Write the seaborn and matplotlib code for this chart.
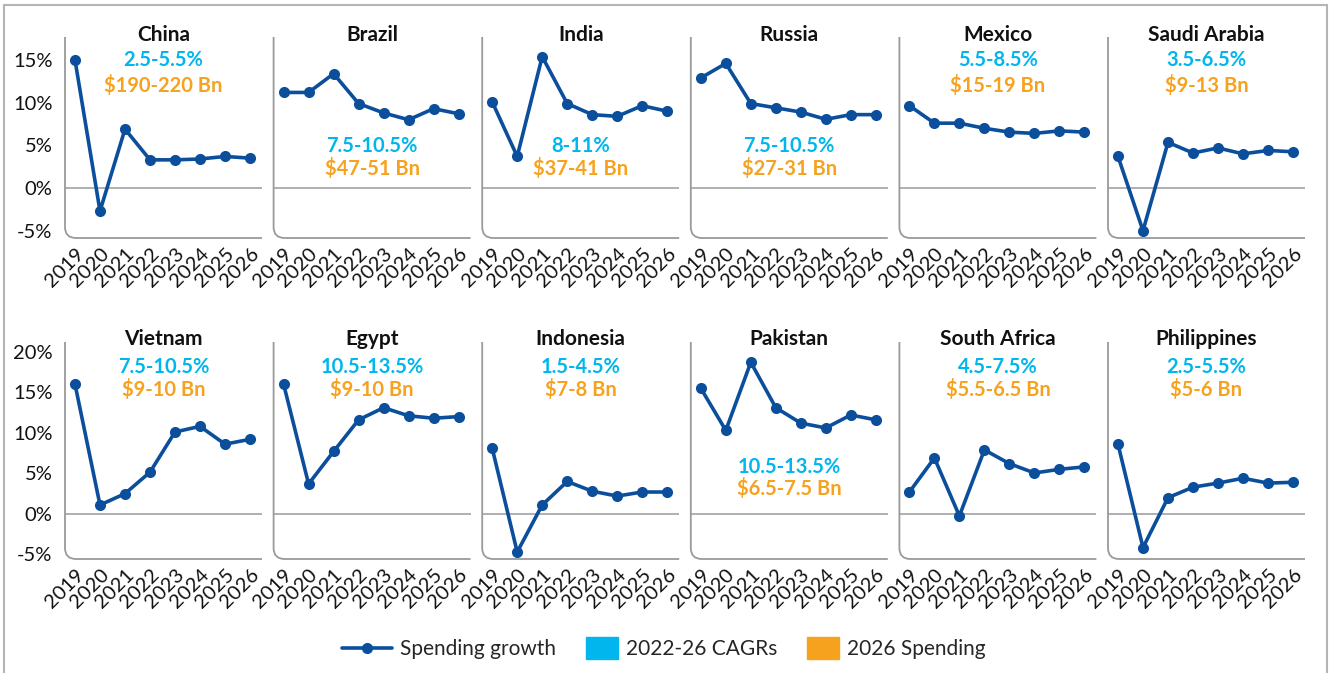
import numpy as np
import pandas as pd
import matplotlib
matplotlib.use("Agg")
import matplotlib.pyplot as plt
import matplotlib.patches as mpatches
import matplotlib.transforms as mtransforms
from matplotlib.path import Path
from matplotlib.lines import Line2D
from matplotlib.legend_handler import HandlerPatch
import seaborn as sns

# ---- data ----
years = ['2019', '2020', '2021', '2022', '2023', '2024', '2025', '2026']

countries_top = ['China', 'Brazil', 'India', 'Russia', 'Mexico', 'Saudi Arabia']
countries_bottom = ['Vietnam', 'Egypt', 'Indonesia', 'Pakistan', 'South Africa', 'Philippines']

china = [15.0, -2.7, 6.9, 3.3, 3.3, 3.4, 3.7, 3.5]
brazil = [11.2, 11.2, 13.4, 9.9, 8.8, 8.0, 9.3, 8.7]
india = [10.1, 3.7, 15.4, 9.9, 8.6, 8.4, 9.65, 9.0]
russia = [12.9, 14.6, 9.9, 9.4, 8.9, 8.05, 8.6, 8.6]
mexico = [9.65, 7.6, 7.6, 7.0, 6.55, 6.4, 6.7, 6.55]
saudi = [3.7, -5.0, 5.35, 4.1, 4.7, 4.0, 4.4, 4.25]
vietnam = [16.0, 1.1, 2.5, 5.15, 10.1, 10.8, 8.6, 9.2]
egypt = [16.0, 3.7, 7.7, 11.6, 13.1, 12.1, 11.8, 12.0]
indonesia = [8.1, -4.7, 1.1, 4.0, 2.8, 2.2, 2.7, 2.7]
pakistan = [15.5, 10.3, 18.7, 13.1, 11.2, 10.6, 12.2, 11.6]
south_africa = [2.7, 6.9, -0.25, 7.9, 6.2, 5.05, 5.5, 5.8]
philippines = [8.6, -4.15, 2.0, 3.3, 3.8, 4.4, 3.8, 3.9]

growth_top = [china, brazil, india, russia, mexico, saudi]
growth_bottom = [vietnam, egypt, indonesia, pakistan, south_africa, philippines]

cagr_top = ['2.5-5.5%', '7.5-10.5%', '8-11%', '7.5-10.5%', '5.5-8.5%', '3.5-6.5%']
spend_top = ['$190-220 Bn', '$47-51 Bn', '$37-41 Bn', '$27-31 Bn', '$15-19 Bn', '$9-13 Bn']
cagr_bottom = ['7.5-10.5%', '10.5-13.5%', '1.5-4.5%', '10.5-13.5%', '4.5-7.5%', '2.5-5.5%']
spend_bottom = ['$9-10 Bn', '$9-10 Bn', '$7-8 Bn', '$6.5-7.5 Bn', '$5.5-6.5 Bn', '$5-6 Bn']

yticks_top = [-5, 0, 5, 10, 15]
yticks_bottom = [-5, 0, 5, 10, 15, 20]

legend_labels = ['Spending growth', '2022-26 CAGRs', '2026 Spending']

# ---- style ----
LINE = '#0B4F9C'
CYAN = '#00B6EC'
ORANGE = '#F7A21E'
GRAY = '#9A9A9A'
low_labels = ['Brazil', 'India', 'Russia', 'Pakistan']

sns.set_style('white')
plt.rcParams['font.family'] = ['Lato', 'DejaVu Sans']

W, H = 1333, 673
fig = plt.figure(figsize=(W / 100, H / 100), dpi=100)

# outer frame
fig.add_artist(mpatches.Rectangle((4 / W, -0.05), 1323 / W, 1.05 - 5 / H,
                                  transform=fig.transFigure, fill=False,
                                  edgecolor='#B5B5B5', lw=1.5))


def corner_frame(ax, r=11):
    # left + bottom spine joined by a rounded corner
    bb = ax.get_position()
    rx, ry = r / W, r / H
    verts = [(bb.x0, bb.y1), (bb.x0, bb.y0 + ry), (bb.x0, bb.y0),
             (bb.x0 + rx, bb.y0), (bb.x1, bb.y0)]
    codes = [Path.MOVETO, Path.LINETO, Path.CURVE3, Path.CURVE3, Path.LINETO]
    fig.add_artist(mpatches.PathPatch(Path(verts, codes), transform=fig.transFigure,
                                      fill=False, edgecolor=GRAY, lw=1.3))


rows = [
    dict(names=countries_top, vals=growth_top, cagr=cagr_top, spend=spend_top,
         yticks=yticks_top, top=37, bottom=238, ylim=(-5.86, 17.7),
         title_y=1.012, hi=(0.886, 0.761), lo=(0.458, 0.348)),
    dict(names=countries_bottom, vals=growth_bottom, cagr=cagr_bottom, spend=spend_bottom,
         yticks=yticks_bottom, top=342, bottom=559, ylim=(-5.56, 21.2),
         title_y=1.012, hi=(0.885, 0.779), lo=(0.424, 0.323)),
]

shift = mtransforms.ScaledTranslation(0.08, -0.04, fig.dpi_scale_trans)

for row in rows:
    for i, name in enumerate(row['names']):
        left = 65 + i * 208.6
        ax = fig.add_axes([left / W, 1 - row['bottom'] / H, 197 / W,
                           (row['bottom'] - row['top']) / H])
        df = pd.DataFrame({'year': np.arange(len(years)), 'growth': row['vals'][i]})
        ax.axhline(0, color=GRAY, lw=1.1, zorder=1)
        sns.lineplot(data=df, x='year', y='growth', ax=ax, color=LINE, lw=2.6,
                     marker='o', markersize=8, markeredgewidth=0, zorder=3)
        ax.set_xlim(-0.4, 7.48)
        ax.set_ylim(*row['ylim'])
        ax.set_xlabel('')
        ax.set_ylabel('')
        for s in ax.spines.values():
            s.set_visible(False)
        corner_frame(ax)
        ax.set_xticks(np.arange(len(years)))
        ax.set_xticklabels(years, rotation=45, ha='right', va='top',
                           rotation_mode='anchor', fontsize=14.5, color='#111111')
        for lab in ax.get_xticklabels():
            lab.set_transform(lab.get_transform() + shift)
        ax.tick_params(axis='x', length=0, pad=5)
        ax.tick_params(axis='y', length=0)
        ax.set_yticks(row['yticks'])
        if i == 0:
            ax.set_yticklabels([f'{v}%' for v in row['yticks']], fontsize=14.5,
                               color='#111111')
            ax.tick_params(axis='y', pad=9)
        else:
            ax.set_yticklabels([])
        ax.text(0.5, row['title_y'], name, transform=ax.transAxes, ha='center',
                va='center', fontsize=15, fontweight='bold', color='#111111')
        y1, y2 = row['lo'] if name in low_labels else row['hi']
        ax.text(0.5, y1, row['cagr'][i], transform=ax.transAxes, ha='center',
                va='center', fontsize=14.5, fontweight='bold', color=CYAN)
        ax.text(0.5, y2, row['spend'][i], transform=ax.transAxes, ha='center',
                va='center', fontsize=14.5, fontweight='bold', color=ORANGE)


def small_rect(legend, orig_handle, xdescent, ydescent, width, height, fontsize):
    w = width * 0.64
    return mpatches.Rectangle((-xdescent + width - w, -ydescent - height * 0.25),
                              w, height * 1.5)


handles = [Line2D([], [], color=LINE, lw=2.6, marker='o', markersize=7),
           mpatches.Patch(color=CYAN), mpatches.Patch(color=ORANGE)]
fig.legend(handles, legend_labels, loc='center', bbox_to_anchor=(0.498, 1 - 649 / H),
           ncol=3, frameon=False, fontsize=15, handlelength=2.4, columnspacing=0.55,
           handletextpad=0.4,
           handler_map={mpatches.Patch: HandlerPatch(patch_func=small_rect)})

fig.savefig('out.png', dpi=100)
